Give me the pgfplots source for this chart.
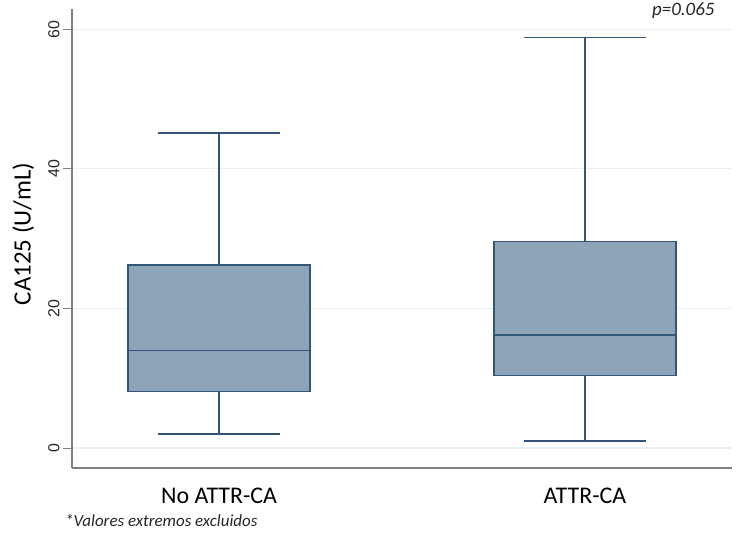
\documentclass[border=0pt]{standalone}
\usepackage{pgfplots}
\pgfplotsset{compat=1.18}
\usepackage{fontspec}
\setmainfont{Carlito}
\newfontfamily\arialf{Liberation Sans}
\definecolor{boxfill}{RGB}{142,164,185}
\definecolor{boxedge}{RGB}{50,85,120}
\definecolor{gridc}{RGB}{233,240,243}
\definecolor{axgray}{RGB}{128,128,128}
\pgfplotsset{bx/.style={draw=boxedge, line width=1.6bp, mark=none, solid}}
\begin{document}
\begin{tikzpicture}
\begin{axis}[
  at={(72bp,73bp)}, anchor=south west,
  scale only axis, width=660bp, height=459bp,
  xmin=0.598, xmax=2.402, ymin=-2.86, ymax=62.9,
  axis x line=bottom, axis y line=left,
  axis line style={-, draw=axgray, line width=1.2bp},
  xtick={1,2}, xticklabels={No ATTR-CA, ATTR-CA},
  xtick style={draw=none},
  xticklabel style={font=\fontsize{24}{24}\selectfont, yshift=-7bp},
  ytick={0,20,40,60},
  ytick style={draw=axgray, line width=1bp},
  tick align=outside, major tick length=9bp,
  /pgf/number format/assume math mode=true,
  yticklabel style={font=\arialf\fontsize{16}{16}\selectfont, rotate=90, anchor=south, text=black!85},
  ymajorgrids, grid style={draw=gridc, line width=1.2bp},
  ylabel={CA125 (U/mL)},
  ylabel style={font=\fontsize{25}{25}\selectfont, at={(axis description cs:-0.074,0.51)}, anchor=center},
]
% No ATTR-CA: LW=2.0, Q1=8.1, Med=14.0, Q3=26.2, UW=45.1
\addplot[bx, fill=boxfill] coordinates {(0.7515,8.1) (1.2485,8.1) (1.2485,26.2) (0.7515,26.2)} -- cycle;
\addplot[bx] coordinates {(0.7515,14.0) (1.2485,14.0)};
\addplot[bx] coordinates {(1,26.2) (1,45.1)};
\addplot[bx] coordinates {(0.8335,45.1) (1.1665,45.1)};
\addplot[bx] coordinates {(1,8.1) (1,2.0)};
\addplot[bx] coordinates {(0.8335,2.0) (1.1665,2.0)};
% ATTR-CA: LW=1.0, Q1=10.4, Med=16.2, Q3=29.6, UW=58.8
\addplot[bx, fill=boxfill] coordinates {(1.7515,10.4) (2.2485,10.4) (2.2485,29.6) (1.7515,29.6)} -- cycle;
\addplot[bx] coordinates {(1.7515,16.2) (2.2485,16.2)};
\addplot[bx] coordinates {(2,29.6) (2,58.8)};
\addplot[bx] coordinates {(1.8335,58.8) (2.1665,58.8)};
\addplot[bx] coordinates {(2,10.4) (2,1.0)};
\addplot[bx] coordinates {(1.8335,1.0) (2.1665,1.0)};
\end{axis}
\node[anchor=east, font=\itshape\fontsize{19}{19}\selectfont, text=black!85] at (718bp,530bp) {p=0.065};
\node[anchor=west, font=\itshape\fontsize{17}{17}\selectfont, text=black!85, inner sep=0pt] at (65bp,20bp) {*Valores extremos excluidos};
\pgfresetboundingbox
\useasboundingbox (0,0) rectangle (750bp,541bp);
\end{tikzpicture}
\end{document}
